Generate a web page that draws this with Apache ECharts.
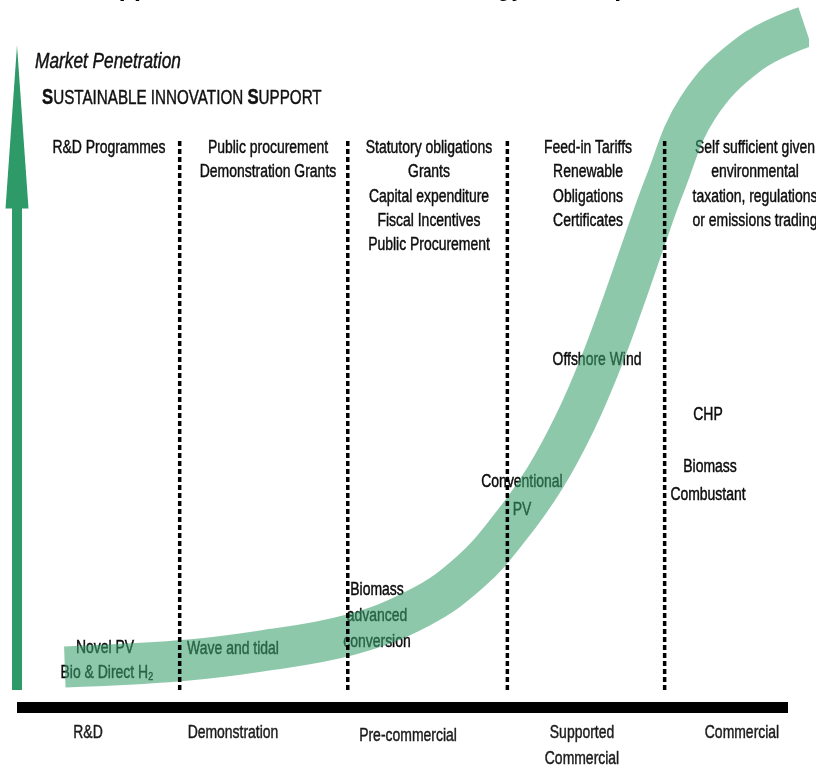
<!DOCTYPE html>
<html>
<head>
<meta charset="utf-8">
<script src="https://cdn.jsdelivr.net/npm/echarts@6/dist/echarts.min.js"></script>
<style>
  html, body { margin: 0; padding: 0; background: #ffffff; }
  #chart { width: 816px; height: 771px; }
</style>
</head>
<body>
<div id="chart"></div>
<script>
// ---------- data ----------
const titleText = 'Support Mechanisms for Technology Development';
const yAxisName = 'Market Penetration';
const supportHeading = '{b|S}USTAINABLE INNOVATION {b|S}UPPORT';

// development stage boundaries (x, 0-100 scale)
const stageBounds = [21.1, 42.9, 63.6, 84.0];
const dividerTop = 97.7;

// S-curve of market penetration along development stages
const curveX = [6.2, 21.1, 31.5, 43.2, 52.3, 58.8, 63.9, 68.5, 72.4, 75.6, 78.5, 81.2, 84.0, 88.3, 95.1, 102.2];
const curveY = [4.1, 5.2, 6.9, 9.8, 14.7, 21.0, 28.8, 37.7, 47.6, 57.7, 68.4, 79.0, 89.7, 103.4, 113.1, 117.8];

const stageNames = [['R&D'], ['Demonstration'], ['Pre-commercial'], ['Supported', 'Commercial'], ['Commercial']];

const supportMechanisms = [
  ['R&D Programmes'],
  ['Public procurement', 'Demonstration Grants'],
  ['Statutory obligations', 'Grants', 'Capital expenditure', 'Fiscal Incentives', 'Public Procurement'],
  ['Feed-in Tariffs', 'Renewable', 'Obligations', 'Certificates'],
  ['Self sufficient given', 'environmental', 'taxation, regulations', 'or emissions trading']
];

const technologies = [
  ['Novel PV', 'Bio & Direct H\u2082'],
  ['Wave and tidal'],
  ['Biomass', 'advanced', 'conversion'],
  ['Conventional', 'PV'],
  ['Offshore Wind'],
  ['CHP'],
  ['Biomass', 'Combustant']
];

// ---------- layout ----------
const FONT = '"Liberation Sans", Arial, sans-serif';
const NARROW = 0.775;

function txt(text, x, y, o) {
  o = o || {};
  const fill = o.fill || '#0d0d0d';
  return {
    type: 'text',
    x: x, y: y,
    scaleX: o.scaleX == null ? NARROW : o.scaleX,
    scaleY: o.scaleY == null ? 1 : o.scaleY,
    z: 0,
    silent: true,
    style: {
      text: text,
      fill: fill,
      fontFamily: FONT,
      fontSize: o.size || 18,
      fontWeight: o.weight || 'normal',
      fontStyle: o.style || 'normal',
      align: o.align || 'center',
      verticalAlign: 'middle',
      textAlign: o.align || 'center',
      textVerticalAlign: 'middle',
      stroke: o.noStroke ? null : fill,
      lineWidth: o.noStroke ? 0 : 0.45,
      rich: o.rich
    }
  };
}

const graphics = [];
graphics.push(txt(titleText, 388, -20.5, {size: 25, weight: 'bold', scaleX: 1, scaleY: 1.8, fill: '#000', noStroke: true}));
graphics.push(txt(yAxisName, 35, 62, {size: 22, style: 'italic', align: 'left', fill: '#111', scaleX: 0.785}));
graphics.push(txt(supportHeading, 42, 98, {size: 20, align: 'left', fill: '#111', scaleX: 0.76,
  rich: {b: {fontSize: 22, fontWeight: 'bold', fontFamily: FONT, fill: '#111'}}}));

const headerCenters = [109, 268, 429, 588, 755];
const headerTop = 148, headerStep = 24.3;
supportMechanisms.forEach((lines, i) => {
  lines.forEach((t, j) => graphics.push(txt(t, headerCenters[i], headerTop + j * headerStep)));
});

const stagePos = [[88, 733], [233, 733], [408, 736], [582, 733], [742, 733]];
stageNames.forEach((lines, i) => {
  lines.forEach((t, j) => graphics.push(txt(t, stagePos[i][0], stagePos[i][1] + j * 26, {fill: '#1a1a1a'})));
});

const techPos = [
  [[105, 648], [107, 673]],
  [[233, 649]],
  [[377, 590], [377, 616], [377, 642]],
  [[522, 482], [522, 510]],
  [[597, 360]],
  [[708, 415]],
  [[710, 467], [708, 495]]
];
technologies.forEach((lines, i) => {
  lines.forEach((t, j) => graphics.push(txt(t, techPos[i][j][0], techPos[i][j][1], {fill: '#0a0a0a'})));
});

const series = [{
  name: 'Market penetration',
  type: 'line',
  data: curveX.map((x, i) => [x, curveY[i]]),
  smooth: 0.4,
  symbol: 'none',
  clip: false,
  z: 2,
  lineStyle: { width: 41, color: 'rgb(60,160,110)', opacity: 0.58, cap: 'butt', join: 'round' }
}];
stageBounds.forEach(b => {
  series.push({
    type: 'line',
    data: [[b, 0], [b, dividerTop]],
    symbol: 'none',
    clip: false,
    z: 5,
    silent: true,
    lineStyle: { width: 3.5, color: '#000', type: [5, 3], cap: 'butt' }
  });
});

const chart = echarts.init(document.getElementById('chart'), null, {renderer: 'canvas'});
chart.setOption({
  backgroundColor: '#ffffff',
  animation: false,
  grid: { left: 17, right: 28, top: 127, bottom: 81, containLabel: false },
  xAxis: {
    type: 'value', min: 0, max: 100, offset: 17,
    axisLine: { show: true, onZero: false, lineStyle: { color: '#000', width: 11, cap: 'butt' } },
    axisTick: { show: false }, axisLabel: { show: false }, splitLine: { show: false }
  },
  yAxis: {
    type: 'value', min: 0, max: 100,
    axisLine: { show: true, onZero: false, symbol: ['none', 'triangle'], symbolSize: [23, 163],
      lineStyle: { color: '#2e9a68', width: 10, cap: 'butt' } },
    axisTick: { show: false }, axisLabel: { show: false }, splitLine: { show: false }
  },
  graphic: graphics,
  series: series
});
</script>
</body>
</html>
